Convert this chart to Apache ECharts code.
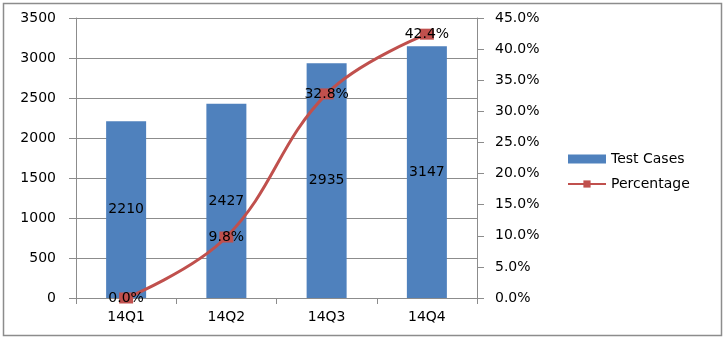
<!DOCTYPE html>
<html lang="en">
<head>
  <meta charset="UTF-8">
  <title>Test Cases</title>
  <style>
    html, body { margin: 0; padding: 0; background: #fff; }
    .chart { width: 725px; height: 342px; }
  </style>
</head>
<body>
  <div class="chart"></div>
  <script src="https://cdn.jsdelivr.net/npm/echarts@6/dist/echarts.min.js"></script>
  <script>
    let quarters = ['14Q1', '14Q2', '14Q3', '14Q4'];
    let testCases = [2210, 2427, 2935, 3147];
    let percentage = [0.0, 9.8, 32.8, 42.4];

    window.onload = function () {
      let myChart = echarts.init(document.querySelector('.chart'));
      let font = 'DejaVu Sans';

      let option = {
        animation: false,
        textStyle: { fontFamily: font },
        graphic: [{
          type: 'rect',
          shape: { x: 3.5, y: 3.5, width: 718, height: 332 },
          style: { fill: 'none', stroke: '#8c8c8c', lineWidth: 1.5 }
        }],
        grid: { left: 76, right: 248, top: 18, bottom: 44 },
        legend: {
          orient: 'vertical',
          left: 562,
          top: 147,
          itemGap: 11,
          itemWidth: 38,
          itemHeight: 9,
          textStyle: { fontFamily: font, fontSize: 14, color: '#000' },
          data: [
            { name: 'Test Cases', icon: 'rect' },
            { name: 'Percentage' }
          ]
        },
        xAxis: {
          type: 'category',
          data: quarters,
          axisLine: { show: false },
          axisTick: { show: true, length: 6, lineStyle: { color: '#8c8c8c' } },
          axisLabel: { fontSize: 14, color: '#000', margin: 12 }
        },
        yAxis: [
          {
            type: 'value',
            min: 0, max: 3500, interval: 500,
            axisLine: { show: true, lineStyle: { color: '#8c8c8c' } },
            axisTick: { show: true, length: 7, lineStyle: { color: '#8c8c8c' } },
            axisLabel: { fontSize: 14, color: '#000', margin: 20, formatter: v => String(v) },
            splitLine: { lineStyle: { color: '#8c8c8c' } }
          },
          {
            type: 'value',
            min: 0, max: 45, interval: 5,
            axisLine: { show: true, lineStyle: { color: '#8c8c8c' } },
            axisTick: { show: true, length: 7, lineStyle: { color: '#8c8c8c' } },
            axisLabel: { fontSize: 14, color: '#000', margin: 18, formatter: v => v.toFixed(1) + '%' },
            splitLine: { show: false }
          }
        ],
        series: [
          {
            name: 'Test Cases',
            type: 'bar',
            barWidth: 40,
            data: testCases,
            itemStyle: { color: '#4F81BD' },
            label: { show: true, position: 'inside', color: '#000', fontSize: 14, fontFamily: font }
          },
          {
            name: 'Percentage',
            type: 'line',
            yAxisIndex: 1,
            smooth: 0.4,
            data: percentage,
            symbol: 'rect',
            symbolSize: [14, 11],
            lineStyle: { color: '#C0504D', width: 3 },
            itemStyle: { color: '#C0504D' },
            label: {
              show: true, position: 'inside', color: '#000', fontSize: 14, fontFamily: font,
              formatter: p => p.value.toFixed(1) + '%'
            }
          }
        ]
      };
      myChart.setOption(option);
    };
  </script>
</body>
</html>
